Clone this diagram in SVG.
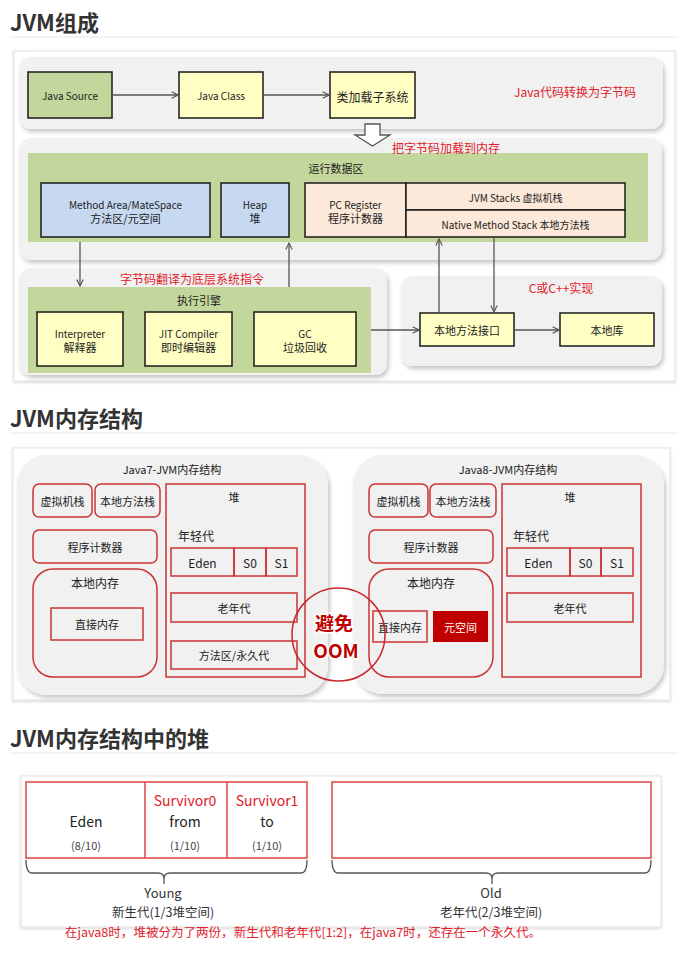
<svg xmlns="http://www.w3.org/2000/svg" width="690" height="955" viewBox="0 0 690 955">
<defs>
<style>
text{font-family:"Noto Sans CJK SC","Noto Sans",sans-serif;fill:#222}
.title{font-size:22px;font-weight:bold;fill:#333}
.hr{stroke:#e6e6e6;stroke-width:1}
.frame{fill:#fff;stroke:#e2e2e2;stroke-width:1}
.panel{fill:#f1f1f1;filter:url(#sh)}
.green{fill:#c3d69b}
.bx{stroke:#1a1a1a;stroke-width:1.5}
.yel{fill:#ffffc4}
.blue{fill:#c6d9f1}
.peach{fill:#fde9d9}
.t10{font-size:10px;text-anchor:middle;dominant-baseline:central}
.t11{font-size:11px;text-anchor:middle;dominant-baseline:central}
.t12{font-size:12px;text-anchor:middle;dominant-baseline:central}
.red{fill:#e0202a}
.conn{stroke:#555;stroke-width:1.3;fill:none}
.rb{fill:none;stroke:#cc3333;stroke-width:1.5}
.hb{fill:#fff;stroke:#d44;stroke-width:1.5}
.brace{fill:none;stroke:#555;stroke-width:1.3}
.oomt{font-size:19px;font-weight:bold;text-anchor:middle;dominant-baseline:central;fill:#c00000;stroke:#fff;stroke-width:3;paint-order:stroke}
</style>
<filter id="sh" x="-5%" y="-5%" width="110%" height="115%">
<feDropShadow dx="2" dy="3" stdDeviation="2" flood-color="#000" flood-opacity="0.22"/>
</filter>
<filter id="fsh" x="-5%" y="-5%" width="110%" height="110%">
<feDropShadow dx="0" dy="1" stdDeviation="1.5" flood-color="#000" flood-opacity="0.18"/>
</filter>
<marker id="ah" viewBox="0 0 10 10" refX="9" refY="5" markerWidth="8" markerHeight="8" orient="auto" markerUnits="userSpaceOnUse">
<path d="M1,1 L9,5 L1,9" fill="none" stroke="#555" stroke-width="1.4"/>
</marker>
</defs>

<!-- Section 1 -->
<g id="title1">
<text x="10" y="31" class="title">JVM组成</text>
<line x1="10" y1="37" x2="678" y2="37" class="hr"/>
</g>
<rect x="14" y="51" width="661" height="330" class="frame" filter="url(#fsh)"/>
<rect x="19" y="57" width="644" height="72" rx="12" class="panel"/>
<rect x="19" y="138" width="643" height="122" rx="12" class="panel"/>
<rect x="19" y="268" width="368" height="107" rx="12" class="panel"/>
<rect x="401" y="276" width="261" height="90" rx="12" class="panel"/>

<g id="java-source"><rect x="28" y="72" width="84" height="46" class="green bx"/><text x="70" y="95" class="t10">Java Source</text></g>
<g id="java-class"><rect x="179" y="72" width="84" height="46" class="yel bx"/><text x="221" y="95" class="t10">Java Class</text></g>
<g id="class-loader"><rect x="330" y="72" width="85" height="46" class="yel bx"/><text x="372.5" y="96" class="t12">类加载子系统</text></g>
<text x="575" y="91" class="t12 red">Java代码转换为字节码</text>

<g id="runtime-data-area">
<rect x="28" y="153" width="620" height="89" class="green"/>
<text x="336" y="168" class="t11">运行数据区</text>
</g>
<g id="load-arrow"><polygon points="365,124 380,124 380,135 390,135 372.5,146 355,135 365,135" fill="#fff" stroke="#555" stroke-width="1.3"/></g>
<text x="446" y="147" class="t12 red">把字节码加载到内存</text>

<g id="method-area"><rect x="41" y="183" width="169" height="54" class="blue bx"/><text x="125.5" y="204" class="t10">Method Area/MateSpace</text><text x="125.5" y="218" class="t11">方法区/元空间</text></g>
<g id="heap"><rect x="221" y="183" width="68" height="54" class="blue bx"/><text x="255" y="204" class="t10">Heap</text><text x="255" y="218" class="t11">堆</text></g>
<g id="pc-register"><rect x="305" y="183" width="101" height="54" class="peach bx"/><text x="355.5" y="204" class="t10">PC Register</text><text x="355.5" y="218" class="t11">程序计数器</text></g>
<g id="jvm-stacks"><rect x="406" y="183" width="219" height="27" class="peach bx"/><text x="515.5" y="197" class="t10">JVM Stacks 虚拟机栈</text></g>
<g id="native-stack"><rect x="406" y="210" width="219" height="27" class="peach bx"/><text x="515.5" y="224" class="t10">Native Method Stack 本地方法栈</text></g>

<text x="192" y="278" class="t12 red">字节码翻译为底层系统指令</text>
<g id="exec-engine">
<rect x="28" y="287" width="343" height="86" class="green"/>
<text x="199" y="300" class="t11">执行引擎</text>
</g>
<g id="interpreter"><rect x="37" y="312" width="86" height="54" class="yel bx"/><text x="80" y="333" class="t10">Interpreter</text><text x="80" y="347" class="t11">解释器</text></g>
<g id="jit"><rect x="145" y="312" width="87" height="54" class="yel bx"/><text x="188.5" y="333" class="t10">JIT Compiler</text><text x="188.5" y="347" class="t11">即时编辑器</text></g>
<g id="gc"><rect x="254" y="312" width="102" height="54" class="yel bx"/><text x="305" y="333" class="t10">GC</text><text x="305" y="347" class="t11">垃圾回收</text></g>
<text x="561" y="287" class="t12 red">C或C++实现</text>
<g id="native-interface"><rect x="420" y="313" width="94" height="33" class="yel bx"/><text x="467" y="330" class="t11">本地方法接口</text></g>
<g id="native-lib"><rect x="560" y="313" width="94" height="33" class="yel bx"/><text x="607" y="330" class="t11">本地库</text></g>

<g id="connectors">
<line x1="112" y1="95" x2="178" y2="95" class="conn" marker-end="url(#ah)"/>
<line x1="263" y1="95" x2="329" y2="95" class="conn" marker-end="url(#ah)"/>
<line x1="80" y1="242" x2="80" y2="286" class="conn" marker-end="url(#ah)"/>
<line x1="289" y1="287" x2="289" y2="243" class="conn" marker-end="url(#ah)"/>
<line x1="371" y1="330" x2="419" y2="330" class="conn" marker-end="url(#ah)"/>
<line x1="514" y1="330" x2="559" y2="330" class="conn" marker-end="url(#ah)"/>
<line x1="439" y1="313" x2="439" y2="239" class="conn" marker-end="url(#ah)"/>
<line x1="494" y1="238" x2="494" y2="312" class="conn" marker-end="url(#ah)"/>
</g>

<!-- Section 2 -->
<g id="title2">
<text x="10" y="427" class="title">JVM内存结构</text>
<line x1="10" y1="433" x2="678" y2="433" class="hr"/>
</g>
<rect x="13" y="448" width="657" height="252" class="frame" filter="url(#fsh)"/>

<g id="java7">
<rect x="17" y="455" width="311" height="240" rx="30" class="panel"/>
<text x="172" y="469" class="t11">Java7-JVM内存结构</text>
<g id="j7-vmstack"><rect x="33" y="484" width="59" height="33" rx="6" class="rb"/><text x="62.5" y="501" class="t11">虚拟机栈</text></g>
<g id="j7-nstack"><rect x="95" y="484" width="65" height="33" rx="6" class="rb"/><text x="127.5" y="501" class="t11">本地方法栈</text></g>
<g id="j7-pc"><rect x="33" y="530" width="124" height="33" rx="6" class="rb"/><text x="95" y="547" class="t11">程序计数器</text></g>
<g id="j7-native"><rect x="33" y="569" width="124" height="108" rx="20" class="rb"/><text x="95" y="582" class="t12">本地内存</text>
<rect x="51" y="608" width="92" height="32" class="rb"/><text x="97" y="624" class="t11">直接内存</text></g>
<g id="j7-heap"><rect x="166" y="484" width="139" height="193" class="rb"/><text x="234" y="497" class="t11">堆</text>
<text x="178" y="535" font-size="12" dominant-baseline="central">年轻代</text>
<rect x="171" y="548" width="63" height="28" class="rb"/><text x="202.5" y="562" class="t12">Eden</text>
<rect x="234" y="548" width="32" height="28" class="rb"/><text x="250" y="562" class="t12">S0</text>
<rect x="266" y="548" width="31" height="28" class="rb"/><text x="281.5" y="562" class="t12">S1</text>
<rect x="171" y="593" width="126" height="29" class="rb"/><text x="234" y="608" class="t11">老年代</text>
<rect x="171" y="641" width="126" height="28" class="rb"/><text x="234" y="655" class="t11">方法区/永久代</text></g>
</g>

<g id="java8">
<rect x="353" y="455" width="311" height="239" rx="30" class="panel"/>
<text x="508" y="469" class="t11">Java8-JVM内存结构</text>
<g id="j8-vmstack"><rect x="369" y="484" width="59" height="33" rx="6" class="rb"/><text x="398.5" y="501" class="t11">虚拟机栈</text></g>
<g id="j8-nstack"><rect x="430" y="484" width="66" height="33" rx="6" class="rb"/><text x="463" y="501" class="t11">本地方法栈</text></g>
<g id="j8-pc"><rect x="369" y="530" width="124" height="33" rx="6" class="rb"/><text x="431" y="547" class="t11">程序计数器</text></g>
<g id="j8-native"><rect x="369" y="569" width="124" height="108" rx="20" class="rb"/><text x="431" y="582" class="t12">本地内存</text>
<rect x="373" y="611" width="54" height="31" class="rb"/><text x="400" y="627" class="t11">直接内存</text>
<rect x="433" y="611" width="55" height="31" fill="#c00000"/><text x="460.5" y="627" class="t11" style="fill:#fff">元空间</text></g>
<g id="j8-heap"><rect x="502" y="484" width="139" height="193" class="rb"/><text x="570" y="497" class="t11">堆</text>
<text x="513" y="535" font-size="12" dominant-baseline="central">年轻代</text>
<rect x="507" y="548" width="63" height="28" class="rb"/><text x="538.5" y="562" class="t12">Eden</text>
<rect x="570" y="548" width="31" height="28" class="rb"/><text x="585.5" y="562" class="t12">S0</text>
<rect x="601" y="548" width="32" height="28" class="rb"/><text x="617" y="562" class="t12">S1</text>
<rect x="507" y="593" width="126" height="29" class="rb"/><text x="570" y="608" class="t11">老年代</text></g>
</g>

<g id="oom">
<circle cx="338.5" cy="634.5" r="46.5" fill="none" stroke="#c8282c" stroke-width="1.5"/>
<text x="334" y="622" class="oomt">避免</text>
<text x="336" y="649" class="oomt">OOM</text>
</g>

<!-- Section 3 -->
<g id="title3">
<text x="10" y="747" class="title">JVM内存结构中的堆</text>
<line x1="10" y1="753" x2="678" y2="753" class="hr"/>
</g>
<rect x="21" y="776" width="640" height="151" class="frame" filter="url(#fsh)"/>

<g id="young">
<rect x="26" y="782" width="281" height="76" class="hb"/>
<line x1="145" y1="782" x2="145" y2="858" stroke="#d44" stroke-width="1.5"/>
<line x1="227" y1="782" x2="227" y2="858" stroke="#d44" stroke-width="1.5"/>
<text x="86" y="821" font-size="14" text-anchor="middle" dominant-baseline="central">Eden</text>
<text x="86" y="845" font-size="11" text-anchor="middle" dominant-baseline="central" style="fill:#444">(8/10)</text>
<text x="185" y="800" font-size="14" text-anchor="middle" dominant-baseline="central" style="fill:#e0202a">Survivor0</text>
<text x="185" y="821" font-size="14" text-anchor="middle" dominant-baseline="central">from</text>
<text x="185" y="845" font-size="11" text-anchor="middle" dominant-baseline="central" style="fill:#444">(1/10)</text>
<text x="267" y="800" font-size="14" text-anchor="middle" dominant-baseline="central" style="fill:#e0202a">Survivor1</text>
<text x="267" y="821" font-size="14" text-anchor="middle" dominant-baseline="central">to</text>
<text x="267" y="845" font-size="11" text-anchor="middle" dominant-baseline="central" style="fill:#444">(1/10)</text>
<path d="M26,860 Q26,873 32,873 L158,873 Q164,873 164,879 L164,884 M164,879 Q164,873 170,873 L301,873 Q307,873 307,860" class="brace"/>
<text x="163" y="892" font-size="13" text-anchor="middle" dominant-baseline="central" style="fill:#333">Young</text>
<text x="163" y="911.5" font-size="12.5" text-anchor="middle" dominant-baseline="central" style="fill:#333">新生代(1/3堆空间)</text>
</g>

<g id="old">
<rect x="332" y="782" width="319" height="76" class="hb"/>
<path d="M332,860 Q332,873 338,873 L486,873 Q492,873 492,879 L492,884 M492,879 Q492,873 498,873 L645,873 Q651,873 651,860" class="brace"/>
<text x="491" y="892" font-size="13" text-anchor="middle" dominant-baseline="central" style="fill:#333">Old</text>
<text x="491" y="911.5" font-size="12.5" text-anchor="middle" dominant-baseline="central" style="fill:#333">老年代(2/3堆空间)</text>
</g>

<text x="65" y="931" font-size="12" dominant-baseline="central" class="red" textLength="476" lengthAdjust="spacingAndGlyphs">在java8时，堆被分为了两份，新生代和老年代[1:2]，在java7时，还存在一个永久代。</text>
</svg>
